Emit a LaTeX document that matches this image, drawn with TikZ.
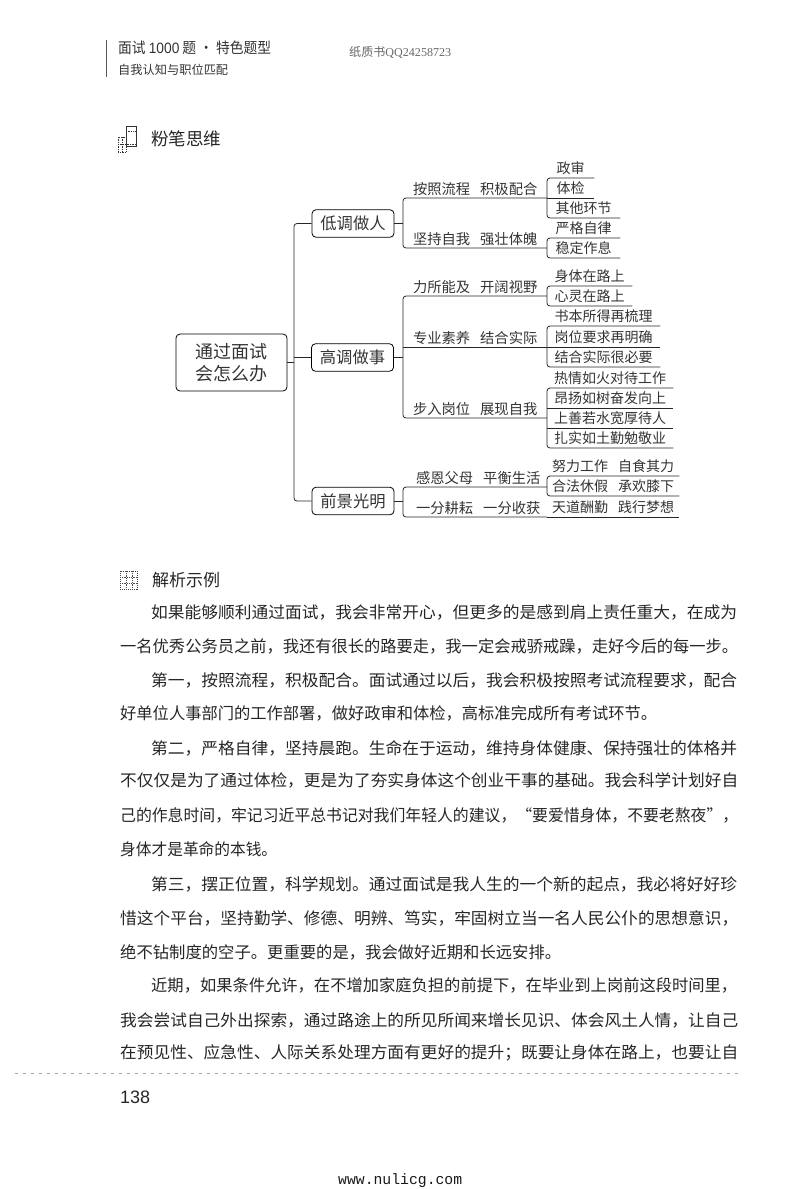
\documentclass[tikz,border=0pt]{standalone}
\usepackage{fontspec}
\usepackage{graphicx}
\setmainfont{Noto Sans CJK SC}
\newfontfamily\latinsans{Liberation Sans}
\newfontfamily\latinmono{Liberation Mono}
\newfontfamily\latinserif{Liberation Serif}
\newcommand{\fitw}[2]{\resizebox{#1pt}{\height}{#2}}
\tikzset{
  rootbox/.style={draw,line width=0.8pt,rounded corners=4pt,minimum width=111pt,minimum height=57pt,inner sep=0pt,align=center,font=\fontsize{18}{22}\selectfont,text=black!80},
  midbox/.style={draw,line width=0.8pt,rounded corners=4pt,minimum width=82pt,minimum height=27.5pt,inner sep=0pt,font=\fontsize{16.3}{20}\selectfont,text=black!80},
  branch/.style={anchor=south west,inner sep=0pt,minimum width=144pt,minimum height=18pt,font=\fontsize{14.3}{16}\selectfont,text=black!80},
  leaf/.style={anchor=south west,inner sep=0pt,minimum height=20pt,font=\fontsize{14}{16}\selectfont,text=black!80},
  conn/.style={line width=0.8pt,rounded corners=3pt,black!85},
  bodyline/.style={anchor=west,inner sep=0pt,font=\fontsize{16.3}{18}\selectfont,text=black!85},
}
\begin{document}
\begin{tikzpicture}[x=1pt,y=-1pt]
\useasboundingbox (0,0) rectangle (800,1189);
% header
\node[draw=none,inner sep=0pt] (headbartop) at (106,39) {};
\node[draw=none,inner sep=0pt] (headbarbot) at (106,78) {};
\draw[line width=0.9pt,black!65] (headbartop) -- (headbarbot);
\node[anchor=west,inner sep=0pt,font=\fontsize{15}{17}\selectfont,text=black!80] (title) at (118,48) {\fitw{153}{面试 {\latinsans 1000} 题 · 特色题型}};
\node[anchor=west,inner sep=0pt,font=\fontsize{12.2}{14}\selectfont,text=black!80] (subtitle) at (118,70) {\fitw{110}{自我认知与职位匹配}};
\node[anchor=west,inner sep=0pt,font=\fontsize{12}{14}\selectfont,text=black!60] (qq) at (349,52) {\fitw{102}{纸质书{\latinserif QQ24258723}}};
% icon 1
\draw[line width=0.7pt,black!80] (126,126) rectangle (136,146);
\draw[line width=0.7pt,black!80,densely dotted] (118,137) rectangle (126,152);
\draw[line width=0.7pt,black!80,densely dotted] (118,144) -- (136,144) (122,137) -- (122,152) (126,131) -- (136,131);
\node[anchor=west,inner sep=0pt,font=\fontsize{17.5}{20}\selectfont,text=black!85] (sec1) at (151,139) {粉笔思维};
% mind map
\node[rootbox] (root) at (231.5,362.5) {通过面试\\会怎么办};
\node[midbox] (m1) at (353,223.5) {低调做人};
\node[midbox] (m2) at (352.5,357.5) {高调做事};
\node[midbox] (m3) at (353,501) {前景光明};
\coordinate (tt) at (294,223.5);
\coordinate (tb) at (294,501);
\coordinate (tm) at (294,362.5);
\coordinate (tn) at (294,357.5);
\draw[conn] (m1.west) -- (tt) -- (tb) -- (m3.west);
\draw[conn] (root.east) -- (tm);
\draw[conn] (tn) -- (m2.west);
% level 2
\node[branch] (a1) at (403,198) {按照流程\hspace{10pt}积极配合};
\node[branch] (a2) at (403,248) {坚持自我\hspace{10pt}强壮体魄};
\node[branch] (b1) at (403,296) {力所能及\hspace{10pt}开阔视野};
\node[branch] (b2) at (403,347) {专业素养\hspace{10pt}结合实际};
\node[branch] (b3) at (403,418) {步入岗位\hspace{10pt}展现自我};
\node[branch,xshift=3pt] (c1) at (403,487) {感恩父母\hspace{10pt}平衡生活};
\node[branch,xshift=3pt] (c2) at (403,517) {一分耕耘\hspace{10pt}一分收获};
\coordinate (a1e) at (547,198);
\coordinate (a2e) at (547,248);
\coordinate (b1e) at (547,296);
\coordinate (b2e) at (547,347);
\coordinate (b3e) at (547,418);
\coordinate (c1e) at (547,487);
\coordinate (c2e) at (547,517);
\coordinate (a1w) at (403,198);
\coordinate (a2w) at (403,248);
\coordinate (b1w) at (403,296);
\coordinate (b2w) at (403,347);
\coordinate (b3w) at (403,418);
\coordinate (c1w) at (403,487);
\coordinate (c2w) at (403,517);
\coordinate (m1j) at (403,223.5);
\coordinate (m2j) at (403,357.5);
\coordinate (m3j) at (403,501);
\draw[conn] (a1e) -- (a1w) -- (a2w) -- (a2e);
\draw[conn] (b1e) -- (b1w) -- (b3w) -- (b3e);
\draw[conn] (b2w) -- (b2e);
\draw[conn] (c1e) -- (c1w) -- (c2w) -- (c2e);
\draw[conn] (m1.east) -- (m1j);
\draw[conn] (m2.east) -- (m2j);
\draw[conn] (m3.east) -- (m3j);
% level 3
\node[leaf,minimum width=47pt] (l11) at (547,178) {政审};
\node[leaf,minimum width=47pt] (l12) at (547,198) {体检};
\node[leaf,minimum width=73pt] (l13) at (547,218) {其他环节};
\node[leaf,minimum width=73pt] (l21) at (547,238) {严格自律};
\node[leaf,minimum width=73pt] (l22) at (547,258) {稳定作息};
\node[leaf,minimum width=85pt] (l31) at (547,286) {身体在路上};
\node[leaf,minimum width=85pt] (l32) at (547,306) {心灵在路上};
\node[leaf,minimum width=113pt] (l41) at (547,326) {书本所得再梳理};
\node[leaf,minimum width=113pt] (l42) at (547,347) {岗位要求再明确};
\node[leaf,minimum width=113pt] (l43) at (547,367) {结合实际很必要};
\node[leaf,minimum width=126pt] (l51) at (547,388) {热情如火对待工作};
\node[leaf,minimum width=126pt] (l52) at (547,408) {昂扬如树奋发向上};
\node[leaf,minimum width=126pt] (l53) at (547,428) {上善若水宽厚待人};
\node[leaf,minimum width=126pt] (l54) at (547,448) {扎实如土勤勉敬业};
\node[leaf,minimum width=132pt] (l61) at (547,476) {努力工作\hspace{10pt}自食其力};
\node[leaf,minimum width=132pt] (l62) at (547,496) {合法休假\hspace{10pt}承欢膝下};
\node[leaf,minimum width=132pt] (l71) at (547,517) {天道酬勤\hspace{10pt}践行梦想};
\draw[conn] (l11.south east) -- (l11.south west) -- (l13.south west) -- (l13.south east);
\draw[conn] (l12.south west) -- (l12.south east);
\draw[conn] (l21.south east) -- (l21.south west) -- (l22.south west) -- (l22.south east);
\draw[conn] (l31.south east) -- (l31.south west) -- (l32.south west) -- (l32.south east);
\draw[conn] (l41.south east) -- (l41.south west) -- (l43.south west) -- (l43.south east);
\draw[conn] (l42.south west) -- (l42.south east);
\draw[conn] (l51.south east) -- (l51.south west) -- (l54.south west) -- (l54.south east);
\draw[conn] (l52.south west) -- (l52.south east);
\draw[conn] (l53.south west) -- (l53.south east);
\draw[conn] (l61.south east) -- (l61.south west) -- (l62.south west) -- (l62.south east);
\draw[conn] (l71.south west) -- (l71.south east);
% icon 2
\draw[line width=1pt,black!75,densely dotted] (120,571) rectangle (137,589);
\draw[line width=0.8pt,black!70,densely dotted] (120,577) -- (137,577) (120,583) -- (137,583) (126,571) -- (126,589) (132,571) -- (132,589);
\node[anchor=west,inner sep=0pt,font=\fontsize{17}{20}\selectfont,text=black!85] (sec2) at (152,580) {解析示例};
% body
\node[bodyline] (t1) at (151,612) {\fitw{586}{如果能够顺利通过面试，我会非常开心，但更多的是感到肩上责任重大，在成为}};
\node[bodyline] (t2) at (120,646) {\fitw{618}{一名优秀公务员之前，我还有很长的路要走，我一定会戒骄戒躁，走好今后的每一步。}};
\node[bodyline] (t3) at (151,680) {\fitw{586}{第一，按照流程，积极配合。面试通过以后，我会积极按照考试流程要求，配合}};
\node[bodyline] (t4) at (120,713) {\fitw{537}{好单位人事部门的工作部署，做好政审和体检，高标准完成所有考试环节。}};
\node[bodyline] (t5) at (151,748) {\fitw{586}{第二，严格自律，坚持晨跑。生命在于运动，维持身体健康、保持强壮的体格并}};
\node[bodyline] (t6) at (120,780) {\fitw{618}{不仅仅是为了通过体检，更是为了夯实身体这个创业干事的基础。我会科学计划好自}};
\node[bodyline] (t7) at (120,815) {\fitw{618}{己的作息时间，牢记习近平总书记对我们年轻人的建议，“要爱惜身体，不要老熬夜”，}};
\node[bodyline] (t8) at (120,849) {\fitw{157}{身体才是革命的本钱。}};
\node[bodyline] (t9) at (151,884) {\fitw{586}{第三，摆正位置，科学规划。通过面试是我人生的一个新的起点，我必将好好珍}};
\node[bodyline] (t10) at (120,918) {\fitw{618}{惜这个平台，坚持勤学、修德、明辨、笃实，牢固树立当一名人民公仆的思想意识，}};
\node[bodyline] (t11) at (120,952) {\fitw{441}{绝不钻制度的空子。更重要的是，我会做好近期和长远安排。}};
\node[bodyline] (t12) at (151,985) {\fitw{586}{近期，如果条件允许，在不增加家庭负担的前提下，在毕业到上岗前这段时间里，}};
\node[bodyline] (t13) at (120,1020) {\fitw{618}{我会尝试自己外出探索，通过路途上的所见所闻来增长见识、体会风土人情，让自己}};
\node[bodyline] (t14) at (120,1053) {\fitw{618}{在预见性、应急性、人际关系处理方面有更好的提升；既要让身体在路上，也要让自}};
% cropped line remnant
\draw[line width=0.8pt,black!35,dash pattern=on 3pt off 5pt] (15,1073) -- (740,1073);
% footer
\node[anchor=west,inner sep=0pt,font=\latinsans\fontsize{18}{20}\selectfont,text=black!85] (page) at (120,1097) {138};
\node[anchor=west,inner sep=0pt,font=\latinmono\fontsize{15}{17}\selectfont,text=black!90] (url) at (338,1181) {\fitw{124}{www.nulicg.com}};
\end{tikzpicture}
\end{document}
